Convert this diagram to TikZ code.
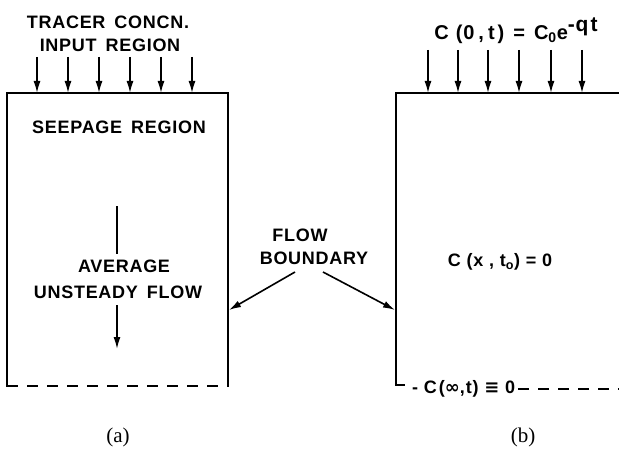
\documentclass[tikz,border=0pt]{standalone}
\usepackage{fontspec}
\setmainfont{Liberation Sans}[LetterSpace=4]
\newfontfamily\capfont{Liberation Serif}
\newfontfamily\symfont{DejaVu Sans}
\usetikzlibrary{arrows.meta}
\newcommand{\wsp}{\hspace{9pt}}
\tikzset{
  lbl/.style={font=\fontsize{18}{21}\selectfont\bfseries, inner sep=0pt},
  biglbl/.style={font=\fontsize{20}{23}\selectfont\bfseries, inner sep=0pt},
  caption/.style={font=\capfont\fontsize{21}{24}\selectfont, inner sep=0pt},
  wall/.style={line width=2pt, line cap=rect},
  arr/.style={line width=1.6pt, -{Latex[length=12pt,width=7pt]}},
  dashline/.style={line width=2pt, dash pattern=on 11pt off 9pt}
}
\begin{document}
\begin{tikzpicture}[x=1pt,y=-1pt]
\useasboundingbox (0,0) rectangle (619,452);
% ---------- (a) ----------
\node[lbl] (t1) at (108,22) {TRACER\wsp CONCN.};
\node[lbl] (t2) at (110,45) {INPUT\wsp REGION};
\foreach \i/\x in {1/37,2/68,3/99,4/130,5/161,6/192}{
  \coordinate (ia\i) at (\x,57);
  \coordinate (ib\i) at (\x,93);
  \draw[arr] (ia\i) -- (ib\i);
}
\coordinate (A1) at (7,93);
\coordinate (A2) at (228,93);
\coordinate (A3) at (228,386);
\coordinate (A4) at (7,386);
\draw[wall] (A4) -- (A1) -- (A2) -- (A3);
\draw[dashline] (A4) -- (A3);
\node[lbl] (seep) at (119,127) {SEEPAGE\wsp REGION};
\coordinate (f1) at (117,207);
\coordinate (f2) at (117,253);
\coordinate (f3) at (117,305);
\coordinate (f4) at (117,349);
\draw[wall] (f1) -- (f2);
\node[lbl] (avg) at (124,266) {AVERAGE};
\node[lbl] (uns) at (118,292) {UNSTEADY\wsp FLOW};
\draw[arr] (f3) -- (f4);
% ---------- middle ----------
\node[lbl] (fl) at (300,235) {FLOW};
\node[lbl] (bd) at (314,258) {BOUNDARY};
\coordinate (bl) at (295,272);
\coordinate (br) at (323,272);
\coordinate (wl) at (229,310);
\coordinate (wr) at (395,310);
\draw[arr] (bl) -- (wl);
\draw[arr] (br) -- (wr);
% ---------- (b) ----------
\node[biglbl] (c0) at (516,31) {C\hspace{7pt}(0\hspace{4pt},\hspace{4pt}t\hspace{3pt})\hspace{9pt}=\hspace{9pt}C\textsubscript{0}e\raisebox{8pt}{\fontsize{21}{21}\selectfont\bfseries -q\hspace{2pt}t}};
\foreach \i/\x in {1/428,2/458,3/488,4/519,5/551,6/582}{
  \coordinate (ja\i) at (\x,50);
  \coordinate (jb\i) at (\x,93);
  \draw[arr] (ja\i) -- (jb\i);
}
\coordinate (B1) at (396,93);
\coordinate (B2) at (619,93);
\coordinate (B4) at (396,385);
\coordinate (B5) at (404,385);
\draw[wall] (B5) -- (B4) -- (B1) -- (B2);
\node[lbl] (cx) at (500,262) {C (x , t\textsubscript{o}) = 0};
\node[lbl, anchor=west] (cinf) at (412,389) {-\ C\hspace{2pt}({\symfont\bfseries ∞},\hspace{1pt}t) {\symfont\bfseries ≡} 0};
\coordinate (rend) at (619,389);
\draw[dashline] (cinf.east) ++(3,0) -- (rend);
% captions
\node[caption] (ca) at (118,437) {(a)};
\node[caption] (cb) at (523,437) {(b)};
\end{tikzpicture}
\end{document}
